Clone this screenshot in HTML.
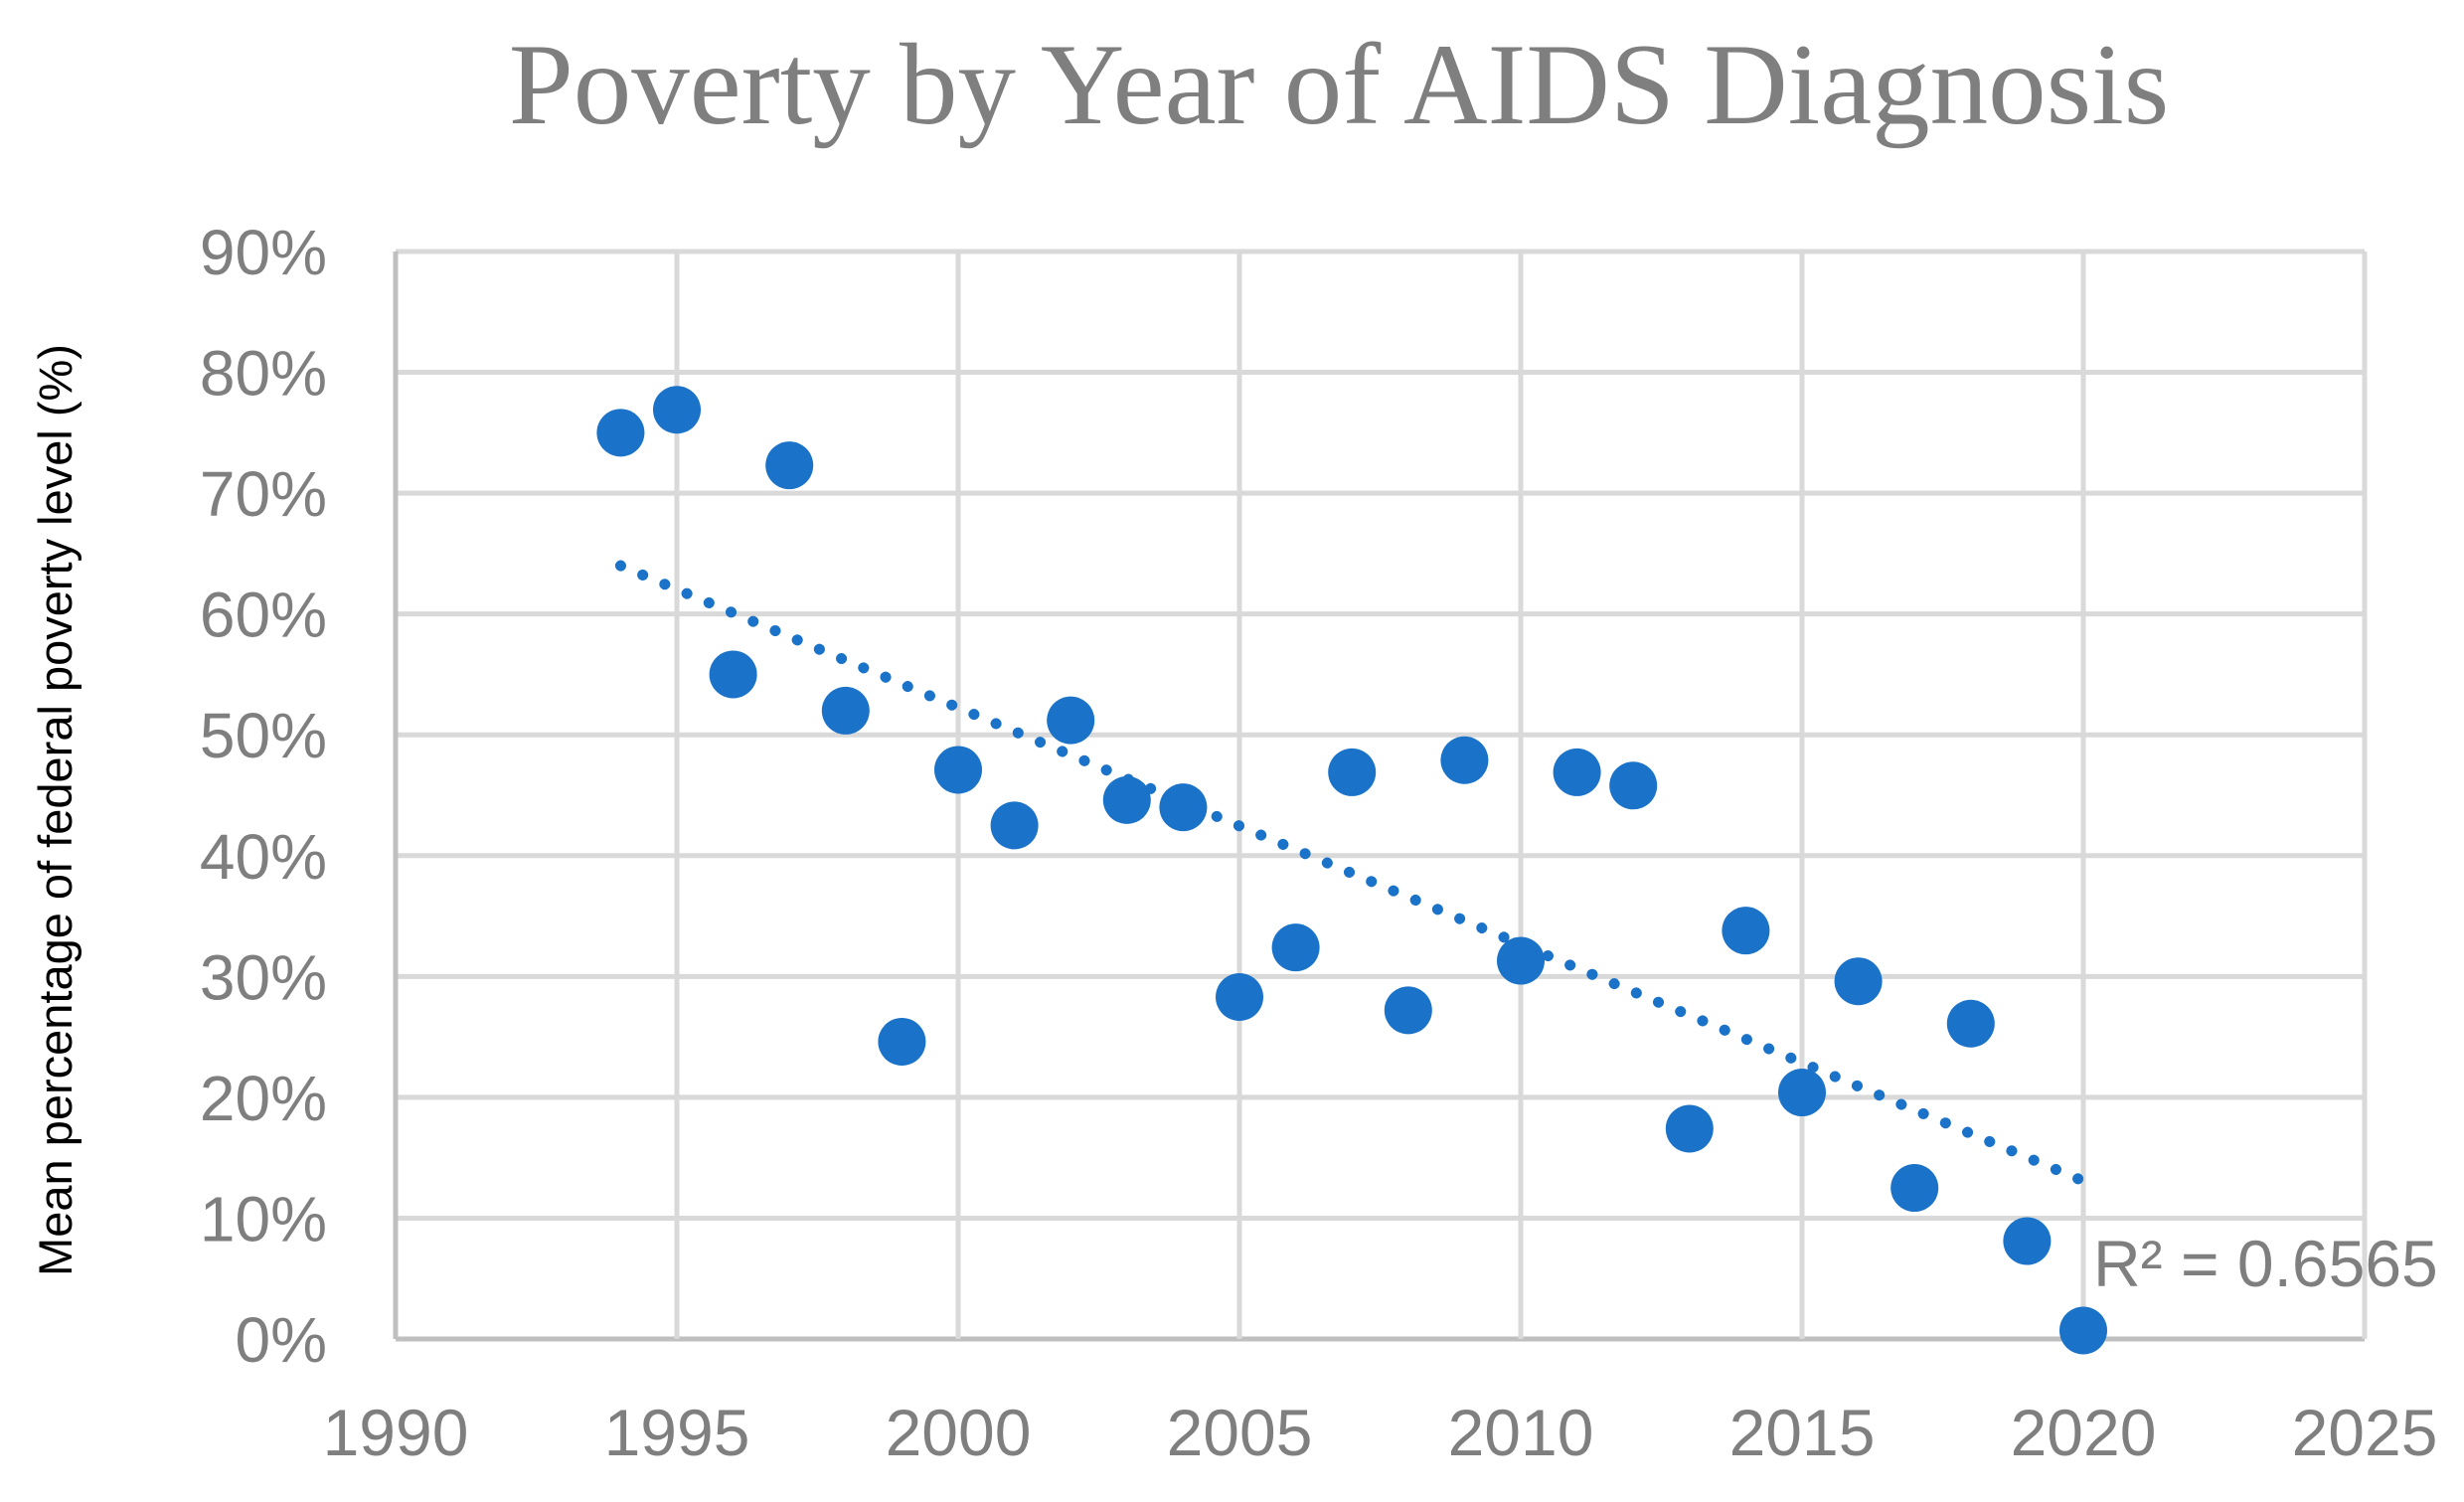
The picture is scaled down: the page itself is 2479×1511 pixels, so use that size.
<!DOCTYPE html>
<html><head><meta charset="utf-8"><style>
html,body{margin:0;padding:0;background:#fff;width:2479px;height:1511px;overflow:hidden}
</style></head><body>
<svg id="chart" width="2479" height="1511" viewBox="0 0 2479 1511" xmlns="http://www.w3.org/2000/svg">
<text x="1347" y="124" text-anchor="middle" font-family="Liberation Serif, serif" font-size="117" fill="#7f7f7f">Poverty by Year of AIDS Diagnosis</text>
<text transform="translate(72,815) rotate(-90)" text-anchor="middle" font-family="Liberation Sans, sans-serif" font-size="47" fill="#000">Mean percentage of federal poverty level (%)</text>
<g id="grid"></g><g id="trend"></g><g id="points"></g><g id="labels"></g>
<text x="2106" y="1294" font-family="Liberation Sans, sans-serif" font-size="66" fill="#7f7f7f">R² = 0.6565</text>
</svg>
<script>
const years=[1994,1995,1996,1997,1998,1999,2000,2001,2002,2003,2004,2005,2006,2007,2008,2009,2010,2011,2012,2013,2014,2015,2016,2017,2018,2019,2020];
const values=[75.0,76.9,55.0,72.3,52.0,24.6,47.1,42.5,51.2,44.6,44.0,28.3,32.4,46.9,27.2,47.9,31.3,46.9,45.8,17.4,33.8,20.4,29.6,12.5,26.1,8.1,0.7];
const xTicks=[1990,1995,2000,2005,2010,2015,2020,2025];
const yTicks=[0,10,20,30,40,50,60,70,80,90];
const NS="http://www.w3.org/2000/svg";
const X0=398,X1=2379,Y0=1347,Y1=253;
const sx=v=>X0+(v-1990)/35*(X1-X0);
const sy=v=>Y0-(v/90)*(Y0-Y1);
function mk(t,a,p){const e=document.createElementNS(NS,t);for(const k in a)e.setAttribute(k,a[k]);p.appendChild(e);return e;}
const grid=document.getElementById('grid'),labels=document.getElementById('labels');
yTicks.forEach(v=>{
 const l=mk('line',{x1:X0,x2:X1,y1:sy(v),y2:sy(v),stroke:v===0?'#bfbfbf':'#d9d9d9','stroke-width':5},grid);
 
 
 const t=mk('text',{x:329,y:sy(v)+23,'text-anchor':'end','font-family':'Liberation Sans, sans-serif','font-size':64,fill:'#7f7f7f'},labels);
 t.textContent=v+'%';
 
 
});
xTicks.forEach(v=>{
 const l=mk('line',{x1:sx(v),x2:sx(v),y1:Y1,y2:Y0,stroke:v===1990?'#bfbfbf':'#d9d9d9','stroke-width':5},grid);
 
 
 const t=mk('text',{x:sx(v),y:1464,'text-anchor':'middle','font-family':'Liberation Sans, sans-serif','font-size':66,fill:'#7f7f7f'},labels);
 t.textContent=v;
 
 
});
const n=years.length;let mx=0,my=0;years.forEach((x,i)=>{mx+=x;my+=values[i];});mx/=n;my/=n;
let sxy=0,sxx=0;years.forEach((x,i)=>{sxy+=(x-mx)*(values[i]-my);sxx+=(x-mx)*(x-mx);});
const b=sxy/sxx,a=my-b*mx;
const xa=years[0],xb=years[n-1];
const tl=mk('line',{x1:sx(xa),y1:sy(a+b*xa),x2:sx(xb),y2:sy(a+b*xb),stroke:'#1a73c8','stroke-width':11,'stroke-linecap':'round','stroke-dasharray':'0.1 24'},document.getElementById('trend'));


const pts=document.getElementById('points');
years.forEach((x,i)=>{
 const c=mk('circle',{cx:sx(x),cy:sy(values[i]),r:24,fill:'#1a73c8'},pts);
 
 
});
</script>
</body></html>
